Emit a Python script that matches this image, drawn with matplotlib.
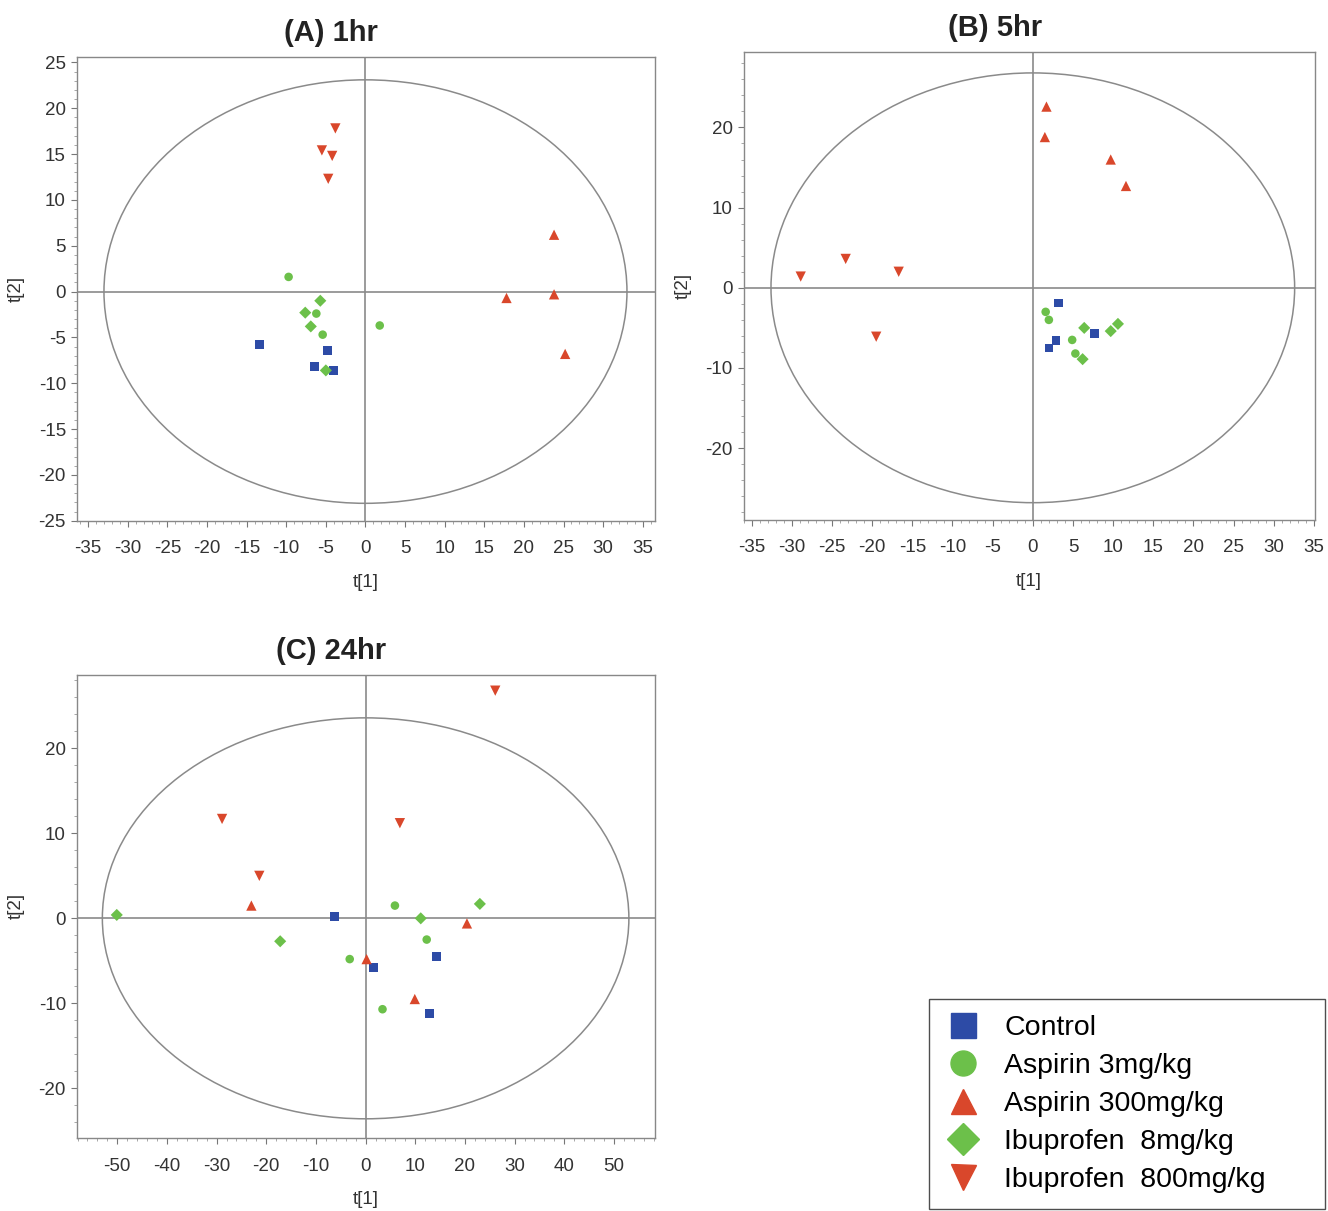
import matplotlib
matplotlib.use("Agg")
import matplotlib.pyplot as plt
from matplotlib.patches import Ellipse
from matplotlib.ticker import MultipleLocator, AutoMinorLocator
from matplotlib.lines import Line2D

plt.rcParams['font.family'] = ['Liberation Sans', 'DejaVu Sans']
plt.rcParams['axes.unicode_minus'] = False

# --- group names / colours ---
GROUPS = ["Control", "Aspirin 3mg/kg", "Aspirin 300mg/kg",
          "Ibuprofen  8mg/kg", "Ibuprofen  800mg/kg"]
COLORS = ["#2d4ba6", "#6cc04a", "#d9472b", "#6cc04a", "#d9472b"]
MARKERS = ["s", "o", "^", "D", "v"]

# --- (A) 1hr scores ---
a_control_t1 = [-13.4, -4.8, -6.4, -4.0]
a_control_t2 = [-5.8, -6.4, -8.2, -8.6]
a_asp3_t1 = [-9.7, -6.2, -5.4, 1.8]
a_asp3_t2 = [1.6, -2.4, -4.7, -3.7]
a_asp300_t1 = [23.8, 17.8, 23.8, 25.2]
a_asp300_t2 = [6.2, -0.7, -0.3, -6.8]
a_ibu8_t1 = [-5.7, -7.6, -6.9, -5.0]
a_ibu8_t2 = [-1.0, -2.3, -3.8, -8.6]
a_ibu800_t1 = [-3.8, -5.5, -4.2, -4.7]
a_ibu800_t2 = [17.8, 15.4, 14.8, 12.3]

# --- (B) 5hr scores ---
b_control_t1 = [3.2, 7.7, 2.9, 2.0]
b_control_t2 = [-1.9, -5.7, -6.6, -7.5]
b_asp3_t1 = [1.6, 2.0, 4.9, 5.3]
b_asp3_t2 = [-3.0, -4.0, -6.5, -8.2]
b_asp300_t1 = [1.7, 1.5, 9.7, 11.6]
b_asp300_t2 = [22.6, 18.8, 16.0, 12.7]
b_ibu8_t1 = [6.4, 6.2, 9.7, 10.6]
b_ibu8_t2 = [-5.0, -8.9, -5.4, -4.5]
b_ibu800_t1 = [-28.9, -23.3, -16.7, -19.5]
b_ibu800_t2 = [1.4, 3.6, 2.0, -6.1]

# --- (C) 24hr scores ---
c_control_t1 = [-6.3, 1.6, 14.3, 12.9]
c_control_t2 = [0.2, -5.8, -4.5, -11.2]
c_asp3_t1 = [-3.2, 5.9, 3.4, 12.3]
c_asp3_t2 = [-4.8, 1.5, -10.7, -2.5]
c_asp300_t1 = [-23.0, 0.2, 20.4, 9.9]
c_asp300_t2 = [1.5, -4.8, -0.6, -9.5]
c_ibu8_t1 = [-50.1, -17.2, 23.0, 11.1]
c_ibu8_t2 = [0.4, -2.7, 1.7, 0.0]
c_ibu800_t1 = [-28.9, -21.4, 6.9, 26.1]
c_ibu800_t2 = [11.7, 5.0, 11.2, 26.8]

# Hotelling T2 ellipse semi-axes (t1, t2) per panel
a_ellipse = (33.0, 23.1)
b_ellipse = (32.6, 26.8)
c_ellipse = (53.0, 23.6)

panels = [
    dict(title="(A) 1hr", pos=[0.058, 0.570, 0.435, 0.383],
         xlim=(-36.4, 36.5), ylim=(-25.0, 25.6), xmaj=5, ymaj=5,
         ell=a_ellipse,
         data=[(a_control_t1, a_control_t2), (a_asp3_t1, a_asp3_t2),
               (a_asp300_t1, a_asp300_t2), (a_ibu8_t1, a_ibu8_t2),
               (a_ibu800_t1, a_ibu800_t2)]),
    dict(title="(B) 5hr", pos=[0.560, 0.571, 0.430, 0.386],
         xlim=(-36.0, 35.1), ylim=(-28.9, 29.4), xmaj=5, ymaj=10,
         ell=b_ellipse,
         data=[(b_control_t1, b_control_t2), (b_asp3_t1, b_asp3_t2),
               (b_asp300_t1, b_asp300_t2), (b_ibu8_t1, b_ibu8_t2),
               (b_ibu800_t1, b_ibu800_t2)]),
    dict(title="(C) 24hr", pos=[0.058, 0.060, 0.435, 0.383],
         xlim=(-58.1, 58.2), ylim=(-25.9, 28.7), xmaj=10, ymaj=10,
         ell=c_ellipse,
         data=[(c_control_t1, c_control_t2), (c_asp3_t1, c_asp3_t2),
               (c_asp300_t1, c_asp300_t2), (c_ibu8_t1, c_ibu8_t2),
               (c_ibu800_t1, c_ibu800_t2)]),
]

fig = plt.figure(figsize=(13.28, 12.11), dpi=100)

for p in panels:
    ax = fig.add_axes(p["pos"])
    ax.set_xlim(*p["xlim"])
    ax.set_ylim(*p["ylim"])
    ax.axhline(0, color="#8a8a8a", lw=1.2, zorder=1)
    ax.axvline(0, color="#8a8a8a", lw=1.2, zorder=1)
    a, b = p["ell"]
    ax.add_patch(Ellipse((0, 0), 2 * a, 2 * b, fill=False,
                         edgecolor="#8a8a8a", lw=1.1, zorder=1))
    for (xs, ys), c, m in zip(p["data"], COLORS, MARKERS):
        size = 55 if m in ("^", "v") else 38
        ax.scatter(xs, ys, marker=m, s=size, color=c, edgecolors="none",
                   zorder=3)
    ax.xaxis.set_major_locator(MultipleLocator(p["xmaj"]))
    ax.yaxis.set_major_locator(MultipleLocator(p["ymaj"]))
    ax.xaxis.set_minor_locator(AutoMinorLocator(5))
    ax.yaxis.set_minor_locator(AutoMinorLocator(5))
    ax.tick_params(which="major", length=4, color="#777777",
                   labelsize=13.5, labelcolor="#333333")
    ax.tick_params(axis="x", which="major", pad=10)
    ax.tick_params(axis="y", which="major", pad=4)
    ax.tick_params(which="minor", length=2, color="#999999")
    for s in ax.spines.values():
        s.set_color("#888888")
        s.set_linewidth(1.0)
    ax.set_xlabel("t[1]", fontsize=13.5, color="#333333", labelpad=12)
    ax.set_ylabel("t[2]", fontsize=13.5, color="#333333", labelpad=10)
    x0, y0, w, h = p["pos"]
    fig.text(x0 + w * 0.44, y0 + h + 0.008, p["title"], ha="center",
             va="bottom", fontsize=21, fontweight="bold", color="#222222")

# legend box
handles = [Line2D([], [], linestyle="none", marker=m, color=c,
                  markersize=18 if m not in ("D",) else 16)
           for c, m in zip(COLORS, MARKERS)]
fig.legend(handles, GROUPS, loc="lower left",
           bbox_to_anchor=(0.6995, 0.002, 0.298, 0.176), mode="expand",
           borderaxespad=0, fontsize=20.5, frameon=True, fancybox=False,
           edgecolor="#222222", handletextpad=0.8, labelspacing=0.42,
           borderpad=0.55, handlelength=1.3)

fig.savefig("out.png", dpi=100)
